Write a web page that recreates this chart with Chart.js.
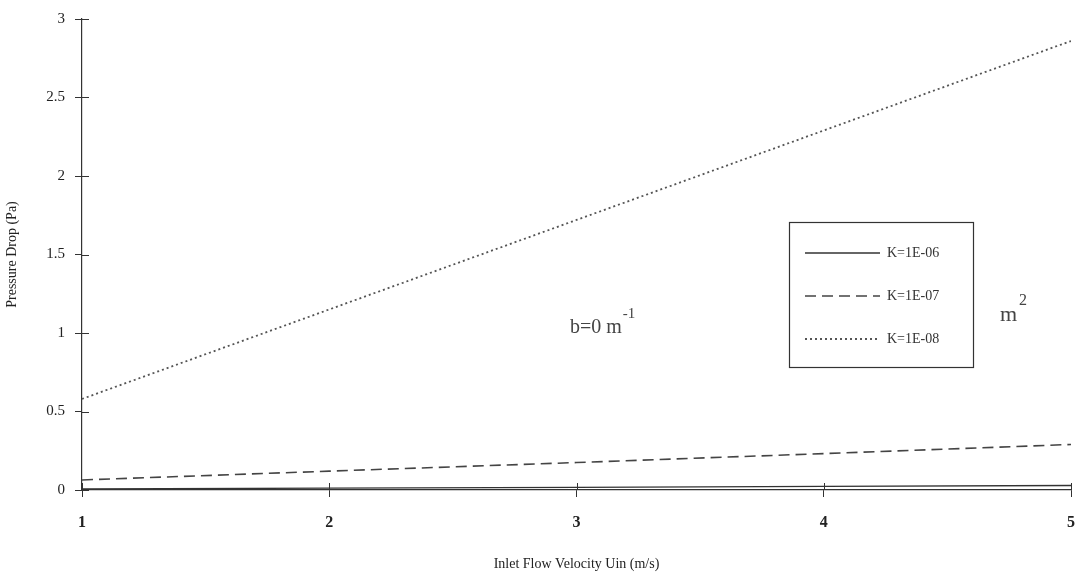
<!DOCTYPE html>
<html>
<head>
<meta charset="utf-8">
<script src="https://cdn.jsdelivr.net/npm/chart.js@4"></script>
<style>
  body { margin: 0; background: #fff; }
  #wrap { width: 1078px; height: 577px; }
</style>
</head>
<body>
<div id="wrap"><canvas id="myChart" width="1078" height="577"></canvas></div>
<script>
// data
var velocity = [1, 2, 3, 4, 5];
var k1e06 = [0.006, 0.012, 0.017, 0.023, 0.029];
var k1e07 = [0.064, 0.12, 0.175, 0.232, 0.29];
var k1e08 = [0.58, 1.15, 1.72, 2.29, 2.86];
var seriesLabels = ["K=1E-06", "K=1E-07", "K=1E-08"];
var yTicks = [0, 0.5, 1, 1.5, 2, 2.5, 3];
var xTicks = [1, 2, 3, 4, 5];

var ink = "#333";
var serif = "'Liberation Serif', 'DejaVu Serif', serif";

function pts(ys) {
  return velocity.map(function (x, i) { return { x: x, y: ys[i] }; });
}

// ticks that cross the axis line + the legend box + loose text
var extras = {
  id: "extras",
  afterDraw: function (chart) {
    var ctx = chart.ctx;
    var xs = chart.scales.x, ys = chart.scales.y;
    var area = chart.chartArea;
    ctx.save();
    ctx.strokeStyle = ink;
    ctx.lineWidth = 1;
    yTicks.forEach(function (v) {
      var p = Math.round(ys.getPixelForValue(v)) + 0.5;
      ctx.beginPath();
      ctx.moveTo(area.left, p);
      ctx.lineTo(area.left + 7, p);
      ctx.stroke();
    });
    xTicks.forEach(function (v) {
      var p = Math.round(xs.getPixelForValue(v)) + 0.5;
      ctx.beginPath();
      ctx.moveTo(p, area.bottom);
      ctx.lineTo(p, area.bottom - 7);
      ctx.stroke();
    });

    // legend box
    var bx = 789, by = 222, bw = 184, bh = 145;
    ctx.lineWidth = 1.2;
    ctx.strokeRect(bx + 0.5, by + 0.5, bw, bh);
    ctx.font = "14px " + serif;
    ctx.fillStyle = ink;
    ctx.textBaseline = "middle";
    chart.data.datasets.forEach(function (ds, i) {
      var yy = by + 31 + i * 43;
      ctx.beginPath();
      ctx.setLineDash(ds.borderDash || []);
      ctx.lineWidth = ds.borderWidth;
      ctx.strokeStyle = ds.borderColor;
      ctx.moveTo(805, yy);
      ctx.lineTo(880, yy);
      ctx.stroke();
      ctx.setLineDash([]);
      ctx.fillText(ds.label, 887, yy);
    });

    // loose annotations
    ctx.textBaseline = "alphabetic";
    ctx.fillStyle = "#444";
    ctx.font = "20px " + serif;
    var t1 = "b=0 m";
    ctx.fillText(t1, 570, 333);
    var w1 = ctx.measureText(t1).width;
    ctx.font = "15px " + serif;
    ctx.fillText("-1", 570 + w1 + 1, 318);
    ctx.font = "22px " + serif;
    ctx.fillText("m", 1000, 321);
    var w2 = ctx.measureText("m").width;
    ctx.font = "16px " + serif;
    ctx.fillText("2", 1000 + w2 + 2, 305);
    ctx.restore();
  }
};

var ctx = document.getElementById("myChart").getContext("2d");
var myChart = new Chart(ctx, {
  type: "line",
  data: {
    datasets: [
      { label: seriesLabels[0], data: pts(k1e06), borderColor: ink, borderWidth: 1.4, pointRadius: 0, fill: false },
      { label: seriesLabels[1], data: pts(k1e07), borderColor: "#444", borderWidth: 1.6, borderDash: [11, 6], pointRadius: 0, fill: false },
      { label: seriesLabels[2], data: pts(k1e08), borderColor: "#555", borderWidth: 1.8, borderDash: [2, 3], pointRadius: 0, fill: false }
    ]
  },
  options: {
    responsive: false,
    animation: false,
    layout: { padding: { top: 18, right: 0, left: 0, bottom: 0 } },
    plugins: { legend: { display: false }, tooltip: { enabled: false } },
    scales: {
      x: {
        type: "linear",
        min: 1,
        max: 5,
        afterFit: function (s) { s.height = 87; s.paddingRight = 7; s.paddingLeft = 0; },
        afterBuildTicks: function (s) { s.ticks = xTicks.map(function (v) { return { value: v }; }); },
        grid: { drawOnChartArea: false, color: ink, tickLength: 7 },
        border: { color: ink, width: 1.2 },
        ticks: { color: "#222", padding: 16, font: { family: serif, size: 16, weight: "bold" },
                 callback: function (v) { return String(v); } },
        title: { display: true, text: "Inlet Flow Velocity Uin (m/s)", color: "#222", padding: { top: 6 }, font: { family: serif, size: 14 } }
      },
      y: {
        min: 0,
        max: 3,
        afterFit: function (s) { s.width = 82; },
        afterBuildTicks: function (s) { s.ticks = yTicks.map(function (v) { return { value: v }; }); },
        grid: { drawOnChartArea: false, color: ink, tickLength: 7 },
        border: { color: ink, width: 1.2 },
        ticks: { color: "#222", padding: 10, font: { family: serif, size: 15 },
                 callback: function (v) { return String(v); } },
        title: { display: true, text: "Pressure Drop (Pa)", color: "#222", padding: { bottom: 0 }, font: { family: serif, size: 14 } }
      }
    }
  },
  plugins: [extras]
});
</script>
</body>
</html>
